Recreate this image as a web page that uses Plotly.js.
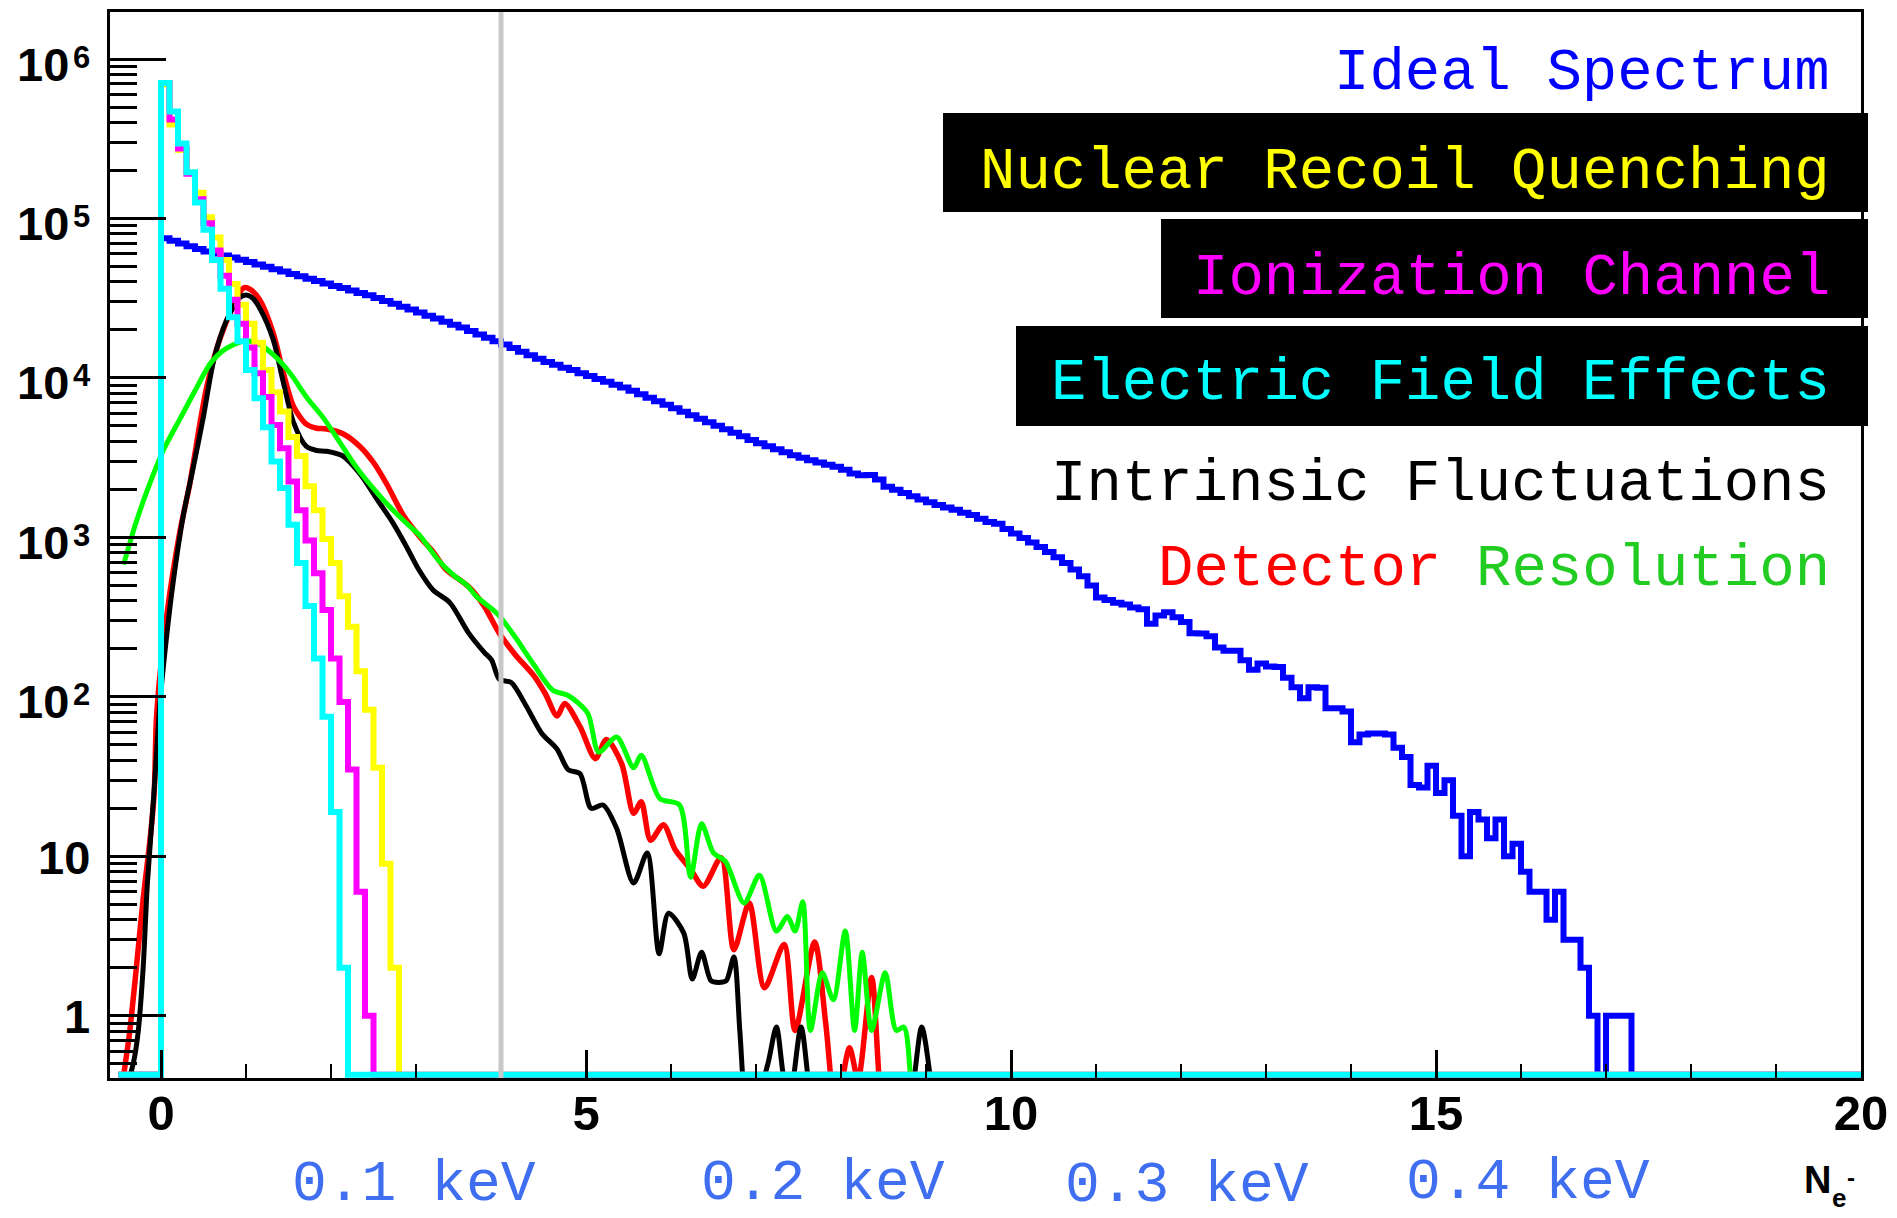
<!DOCTYPE html>
<html>
<head>
<meta charset="utf-8">
<script src="https://cdn.plot.ly/plotly-3.0.1.min.js"></script>
<style>
html,body{margin:0;padding:0;background:#ffffff;}
#chart{width:1897px;height:1218px;}
</style>
</head>
<body>
<div id="chart"></div>
<script>
// ---------------- DATA ----------------
// Histograms: bin width 0.1 in N_e, counts listed from the bin starting at N_e = 0
const binWidth = 0.1;
const histStart = -0.5;
const histEnd = 20;
const firstFilledEdge = 0;

const idealCounts = [75300,72400,69700,67000,64400,62200,60400,58600,56900,55200,
53300,51500,49800,48100,46500,44900,43400,41900,40500,39100,
37800,36600,35300,34100,33000,31700,30400,29200,28000,26900,
25700,24600,23600,22500,21600,20700,19700,18700,17900,17000,
16200,15400,14600,13900,13200,12600,12100,11600,11200,10700,
10300,9860,9460,9080,8710,8320,7910,7520,7150,6790,
6460,6140,5830,5550,5270,5010,4760,4530,4310,4090,
3890,3730,3570,3420,3280,3160,3050,2950,2860,2770,
2660,2520,2450,2460,2310,2080,1990,1900,1810,1730,
1660,1600,1540,1490,1430,1380,1310,1250,1220,1130,
1060,990,930,870,810,750,690,630,570,500,
420,405,389,380,363,355,288,324,339,316,
295,251,250,240,204,195,195,170,148,162,
155,154,132,115,98,115,114,85,85,81,
52,58,59,59,58,48,42,28,27,37,
25,30,18,10,19,17,13,17,10,12,
8,6,6,4,6,3,3,2,1,0,
1,1,1];

const quenchingCounts = [692000,389000,269000,195000,145000,102000,75900,55000,38900,28800,
21900,16600,11200,8130,6170,4270,3240,2090,1480,977,
692,427,275,145,83,36,9,2];

const ionizationCounts = [708000,417000,275000,191000,132000,93300,63100,43700,30900,21900,
15500,10700,7590,5070,3630,2240,1480,955,596,351,
174,93,35,6,1];

const fieldCounts = [708000,468000,295000,195000,126000,85100,55000,36300,24000,17000,
11200,7460,4900,2990,2040,1200,692,372,174,75,
19,2];

// Smooth curves (sampled N_e, counts)
const intrinsicX = [-0.45,-0.40,-0.32,-0.27,-0.21,-0.16,-0.09,-0.01,0.07,0.14,
0.26,0.38,0.50,0.62,0.77,0.93,1.00,1.07,1.16,1.32,
1.44,1.56,1.71,1.83,1.95,2.14,2.34,2.54,2.73,2.89,
3.03,3.20,3.40,3.62,3.80,3.89,3.98,4.12,4.30,4.48,
4.66,4.79,4.93,5.06,5.20,5.36,5.56,5.72,5.86,5.97,
6.15,6.25,6.36,6.47,6.56,6.65,6.74,6.81,6.88,6.96,
7.04,7.14,7.24,7.33,7.40,7.53,7.64,7.75,8.70,8.83,
8.95,9.08,9.15];
const intrinsicY = [0.25,0.35,0.52,0.78,2.0,6.8,22,95,250,510,
1350,2750,5750,12900,22900,32000,33100,32000,27500,17400,
9330,5250,3720,3510,3470,3240,2510,1740,1230,871,
631,468,389,251,191,170,129,123,87,59,
47,35,33,20,21,15,6.8,10.5,2.45,4.4,
3.3,1.7,2.5,1.66,1.62,1.66,2.34,0.8,0.28,0.42,
0.35,0.5,0.85,0.4,0.32,0.85,0.32,0.2,0.2,0.32,
0.85,0.32,0.2];

const detectorX = [-0.50,-0.42,-0.37,-0.29,-0.21,-0.13,-0.08,-0.05,0.07,0.22,
0.34,0.46,0.54,0.69,0.85,0.97,1.05,1.16,1.32,1.44,
1.56,1.71,1.83,1.95,2.14,2.34,2.50,2.66,2.85,3.05,
3.20,3.35,3.62,3.80,3.98,4.16,4.39,4.52,4.66,4.75,
4.93,5.11,5.24,5.42,5.56,5.65,5.76,5.91,6.05,6.23,
6.38,6.59,6.74,6.92,7.10,7.33,7.46,7.69,7.82,7.94,
8.10,8.20,8.36,8.47,8.55];
const detectorY = [0.25,0.5,0.78,2.0,5.4,12.6,25,79,331,1070,
2190,5250,8900,17400,28200,36700,35900,30900,19100,10700,
6610,5130,4840,4790,4470,3720,2950,2140,1380,1000,
813,631,490,372,251,186,135,105,76,91,
65,41,54,38,18.6,22,12.6,15.8,11,8.3,
6.5,9.8,2.6,5.1,1.5,2.8,0.81,2.9,0.9,0.25,
0.63,0.4,1.74,0.3,0.2];

const resolutionX = [-0.44,-0.29,-0.13,0.03,0.22,0.40,0.58,0.75,0.97,1.13,
1.32,1.52,1.71,1.91,2.10,2.30,2.54,2.73,
2.93,3.05,3.26,3.45,3.60,3.71,3.96,4.16,4.39,4.61,
4.79,5.02,5.15,5.36,5.56,5.65,5.87,6.10,6.23,6.36,
6.50,6.64,6.86,7.04,7.24,7.37,7.46,7.55,7.64,7.78,
7.91,8.05,8.16,8.25,8.36,8.52,8.65,8.74,8.83,8.90];
const resolutionY = [676,1260,2190,3550,5500,8320,12300,15100,17000,16600,
14000,10700,7590,5620,3980,2750,1910,1480,
1170,1020,724,575,501,427,331,240,158,110,
102,79,45,56,36,43,23,21,7.4,16,
10.5,9.3,5.1,7.6,3.4,4.2,3.4,5.2,0.81,1.86,
1.26,3.4,0.81,2.5,0.81,1.86,0.81,0.85,0.35,0.2];

// Axis tick labels
const xTickVals = [0,5,10,15,20];
const xTickText = ['0','5','10','15','20'];
const yTickVals = [1,10,100,1000,10000,100000,1000000];
const yTickBase = ['1','10','10','10','10','10','10'];
const yTickExp  = ['','','2','3','4','5','6'];
const thresholdNe = 4;

// Text labels
const legendLabels = ['Ideal Spectrum','Nuclear Recoil Quenching','Ionization Channel','Electric Field Effects','Intrinsic Fluctuations'];
const legendColors = ['#0000ff','#ffff00','#ff00ff','#00ffff','#000000'];
const legendBoxed = [false,true,true,true,false];
const lastLabelParts = ['Detector','Resolution'];
const lastLabelColors = ['#ff0000','#22cc22'];
const energyLabels = ['0.1 keV','0.2 keV','0.3 keV','0.4 keV'];
const axisTitleParts = ['N','e','-'];

// ---------------- DRAWING ----------------
const FLOOR = Math.pow(10,-0.37);   // empty bins drawn on the frame bottom
const L=110, R=1861, T=12, B=1078;
const px = v => (v-L)/(R-L);
const py = v => (B-v)/(B-T);

function histTrace(counts,color,width){
  const n = Math.round((histEnd-histStart)/binWidth);
  const off = Math.round((firstFilledEdge-histStart)/binWidth);
  const xs=[], ys=[];
  for(let i=0;i<n;i++){
    const x = +(histStart+i*binWidth).toFixed(3);
    const j = i-off;
    const c = (j>=0 && j<counts.length) ? counts[j] : 0;
    xs.push(x); ys.push(c>0?c:FLOOR);
  }
  xs.push(histEnd); ys.push(ys[ys.length-1]);
  return {x:xs,y:ys,mode:'lines',line:{shape:'hv',color:color,width:width},hoverinfo:'skip'};
}
function curveTrace(xs,ys,color,width){
  return {x:xs,y:ys,mode:'lines',line:{shape:'spline',smoothing:0.8,color:color,width:width},hoverinfo:'skip'};
}

const traces = [
  histTrace(idealCounts,'#0000ff',6),
  curveTrace(detectorX,detectorY,'#ff0000',5.5),
  curveTrace(intrinsicX,intrinsicY,'#000000',5),
  curveTrace(resolutionX,resolutionY,'#00ff00',5),
  histTrace(quenchingCounts,'#ffff00',6),
  histTrace(ionizationCounts,'#ff00ff',6),
  histTrace(fieldCounts,'#00ffff',6)
];

const minorY=[];
for(let k=-1;k<=6;k++){for(let d=2;d<=9;d++){const v=d*Math.pow(10,k); if(v>0.43 && v<1.9e6) minorY.push(v);}}

const monoFont = 'Courier New, Liberation Mono, monospace';
const sansFont = 'Liberation Sans, Arial, Helvetica, sans-serif';

const boxes = [null,[943,1868,113,212],[1161,1868,219,318],[1016,1868,326,426],null];
const labelY = [74,172,279,384,484];
const shapes = [];
const annotations = [];
legendLabels.forEach((t,i)=>{
  if(legendBoxed[i]){
    const b = boxes[i];
    shapes.push({type:'rect',xref:'paper',yref:'paper',x0:px(b[0]),x1:px(b[1]),y0:py(b[3]),y1:py(b[2]),fillcolor:'#000',line:{width:0},layer:'above'});
  }
  annotations.push({xref:'paper',yref:'paper',x:px(1832),y:py(labelY[i]),xanchor:'right',yanchor:'middle',showarrow:false,
    text:t,font:{family:monoFont,size:59,color:legendColors[i]}});
});
// "Detector Resolution" in two colours (monospace: 0.6 em per character)
const charW = 59*0.6;
const lastRight = [1832 - (lastLabelParts[1].length+1)*charW, 1832];
lastLabelParts.forEach((t,i)=>{
  annotations.push({xref:'paper',yref:'paper',x:px(lastRight[i]),y:py(569),xanchor:'right',yanchor:'middle',showarrow:false,
    text:t,font:{family:monoFont,size:59,color:lastLabelColors[i]}});
});

const energyX=[414,823,1187,1528], energyY=[1184,1183,1185,1182];
energyLabels.forEach((t,i)=>{
  annotations.push({xref:'paper',yref:'paper',x:px(energyX[i]),y:py(energyY[i]),xanchor:'center',yanchor:'middle',showarrow:false,
    text:t,font:{family:monoFont,size:58,color:'#3f6ff0'}});
});

// y tick labels, ROOT style (placed on the log axis through yref 'y')
yTickVals.forEach((v,i)=>{
  const hasExp = yTickExp[i] !== '';
  annotations.push({xref:'paper',yref:'y',x:px(hasExp?71:92),y:Math.log10(v),xanchor:'right',yanchor:'middle',
    yshift:hasExp?-5:-1,showarrow:false,text:yTickBase[i],font:{family:sansFont,size:47,color:'#000',weight:'bold'}});
  if(hasExp){
    annotations.push({xref:'paper',yref:'y',x:px(71),y:Math.log10(v),xanchor:'left',yanchor:'middle',
      yshift:2,showarrow:false,text:yTickExp[i],font:{family:sansFont,size:31,color:'#000',weight:'bold'}});
  }
});

// axis title N_e^-  (top-anchored boxes)
const titlePos = [[1817,1157,38],[1839,1181,26],[1851,1162,24]];
axisTitleParts.forEach((t,i)=>{
  annotations.push({xref:'paper',yref:'paper',x:px(titlePos[i][0]),y:py(titlePos[i][1]),xanchor:'center',yanchor:'top',showarrow:false,
    text:t,font:{family:sansFont,size:titlePos[i][2],color:'#000',weight:'bold'}});
});

shapes.push({type:'line',xref:'x',yref:'paper',x0:thresholdNe,x1:thresholdNe,y0:0,y1:1,line:{color:'#c8c8c8',width:5},layer:'above'});

const layout = {
  width:1897,height:1218,
  margin:{l:L,r:1897-R,t:T,b:1218-B,pad:0},
  paper_bgcolor:'#ffffff',plot_bgcolor:'#ffffff',
  showlegend:false,
  xaxis:{range:[-0.6,20],tickmode:'array',tickvals:xTickVals,ticktext:xTickText,
    ticks:'inside',ticklen:28,tickwidth:3,tickcolor:'#000',showline:true,linecolor:'#000',linewidth:3,mirror:true,
    showgrid:false,zeroline:false,ticklabelstandoff:-10,
    tickfont:{family:sansFont,size:49,color:'#000',weight:'bold'},
    minor:{tickmode:'linear',tick0:0,dtick:1,ticks:'inside',ticklen:14,tickwidth:2.5,tickcolor:'#000',showgrid:false}},
  yaxis:{type:'log',range:[-0.39,6.295],tickmode:'array',tickvals:yTickVals,showticklabels:false,
    ticks:'inside',ticklen:56,tickwidth:3,tickcolor:'#000',showline:true,linecolor:'#000',linewidth:3,mirror:true,
    showgrid:false,zeroline:false,
    minor:{tickmode:'array',tickvals:minorY,ticks:'inside',ticklen:27,tickwidth:3,tickcolor:'#000',showgrid:false}},
  shapes:shapes,
  annotations:annotations
};

Plotly.newPlot('chart',traces,layout,{staticPlot:true,displayModeBar:false});
</script>
</body>
</html>
